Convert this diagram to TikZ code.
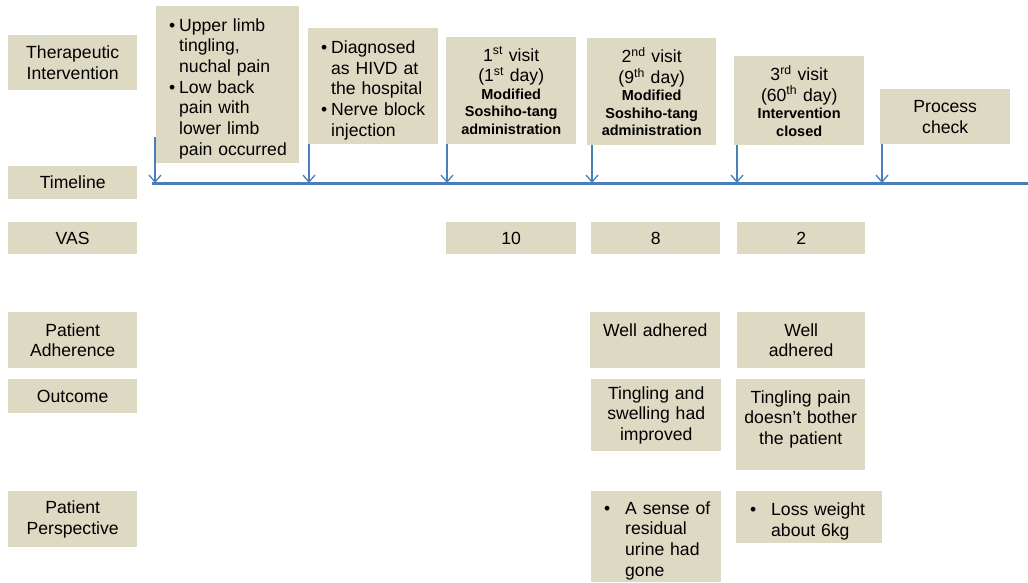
\documentclass[tikz,border=0pt]{standalone}
\usepackage{fontspec}
\setmainfont{Liberation Sans}
\usetikzlibrary{arrows.meta}
\definecolor{boxfill}{HTML}{DDD9C3}
\definecolor{lineblue}{HTML}{4A7EBB}
% bullet lines: first line with bullet, then hanging lines
\newcommand{\bitem}[3]{\par\noindent\hspace*{#1}\makebox[#2][l]{\textbullet}#3}
\newcommand{\bline}[3]{\par\noindent\hspace*{#1}\hspace*{#2}#3}
% smaller bold lines under a visit
\newcommand{\boldpart}[1]{\par{\bfseries\fontsize{14.5}{17.5}\selectfont #1\par}}
\tikzset{
  cell/.style={fill=boxfill, anchor=north west, inner sep=0pt, align=center,
    font=\fontsize{17.6}{20.7}\selectfont},
  bulcell/.style={cell, align=left},
  visit/.style={-{Straight Barb[length=7pt,width=12pt]}, draw=lineblue, line width=1.3pt}
}
\begin{document}
\begin{tikzpicture}[x=1pt,y=-1pt]
\useasboundingbox (0,0) rectangle (1028,582);
% row titles
\node[cell, text width=129pt, minimum height=55pt] (therapy) at (8,35) {Therapeutic\\Intervention};
\node[cell, text width=129pt, minimum height=33pt] (timeline) at (8,166) {Timeline};
\node[cell, text width=129pt, minimum height=32pt] (vas) at (8,222) {VAS};
\node[cell, text width=129pt, minimum height=56pt] (adherence) at (8,312) {Patient\\Adherence};
\node[cell, text width=129pt, minimum height=34pt] (outcome) at (8,379) {Outcome};
\node[cell, text width=129pt, minimum height=56pt] (perspective) at (8,491) {Patient\\Perspective};

% events on the timeline
\node[bulcell, text width=143pt, minimum height=157pt] (ev1) at (156,6)
  {\bitem{13pt}{10pt}{Upper limb}\bline{13pt}{10pt}{tingling,}\bline{13pt}{10pt}{nuchal pain}%
   \bitem{13pt}{10pt}{Low back}\bline{13pt}{10pt}{pain with}\bline{13pt}{10pt}{lower limb}%
   \bline{13pt}{10pt}{pain occurred}\par};
\node[bulcell, text width=130pt, minimum height=116pt] (ev2) at (308,28)
  {\bitem{13pt}{10pt}{Diagnosed}\bline{13pt}{10pt}{as HIVD at}\bline{13pt}{10pt}{the hospital}%
   \bitem{13pt}{10pt}{Nerve block}\bline{13pt}{10pt}{injection}\par};
\node[cell, text width=130pt, minimum height=107pt] (ev3) at (446,37)
  {1\textsuperscript{st} visit\\(1\textsuperscript{st} day)\boldpart{Modified\\Soshiho-tang\\administration}};
\node[cell, text width=129pt, minimum height=107pt] (ev4) at (587,38)
  {2\textsuperscript{nd} visit\\(9\textsuperscript{th} day)\boldpart{Modified\\Soshiho-tang\\administration}};
\node[cell, text width=130pt, minimum height=89pt] (ev5) at (734,56)
  {3\textsuperscript{rd} visit\\(60\textsuperscript{th} day)\boldpart{Intervention\\closed}};
\node[cell, text width=130pt, minimum height=55pt] (ev6) at (880,89) {Process\\check};

% timeline
\coordinate (tl0) at (152,183);
\coordinate (tl1) at (1028,183);
\draw[draw=lineblue, line width=3pt] (tl0) -- (tl1);
\draw[visit] ([xshift=-1pt,yshift=26pt]ev1.south west) -- ([xshift=-1pt]ev1.south west |- tl0);
\draw[visit] ([xshift=1pt]ev2.south west) -- ([xshift=1pt]ev2.south west |- tl0);
\draw[visit] ([xshift=1pt]ev3.south west) -- ([xshift=1pt]ev3.south west |- tl0);
\draw[visit] ([xshift=5pt]ev4.south west) -- ([xshift=5pt]ev4.south west |- tl0);
\draw[visit] ([xshift=3pt]ev5.south west) -- ([xshift=3pt]ev5.south west |- tl0);
\draw[visit] ([xshift=2pt]ev6.south west) -- ([xshift=2pt]ev6.south west |- tl0);

% VAS scores
\node[cell, text width=130pt, minimum height=32pt] (vas1) at (446,222) {10};
\node[cell, text width=129pt, minimum height=32pt] (vas2) at (591,222) {8};
\node[cell, text width=128pt, minimum height=32pt] (vas3) at (737,222) {2};

% adherence
\node[cell, text width=130pt, text height=24pt, text depth=32pt] (adh2) at (590,312) {Well adhered};
\node[cell, text width=128pt, minimum height=56pt] (adh3) at (737,312) {Well\\adhered};

% outcome
\node[cell, text width=130pt, minimum height=72pt] (out2) at (591,379) {Tingling and\\swelling had\\improved};
\node[cell, text width=129pt, text height=24pt, text depth=67pt] (out3) at (736,379) {Tingling pain\\doesn't bother\\the patient};

% perspective
\node[bulcell, text width=130pt, minimum height=91pt] (per2) at (591,491)
  {\bitem{13pt}{21pt}{A sense of}\bline{13pt}{21pt}{residual}\bline{13pt}{21pt}{urine had}%
   \bline{13pt}{21pt}{gone}\par};
\node[bulcell, text width=146pt, minimum height=52pt] (per3) at (736,491)
  {\bitem{14pt}{21pt}{Loss weight}\bline{14pt}{21pt}{about 6kg}\par};
\end{tikzpicture}
\end{document}
